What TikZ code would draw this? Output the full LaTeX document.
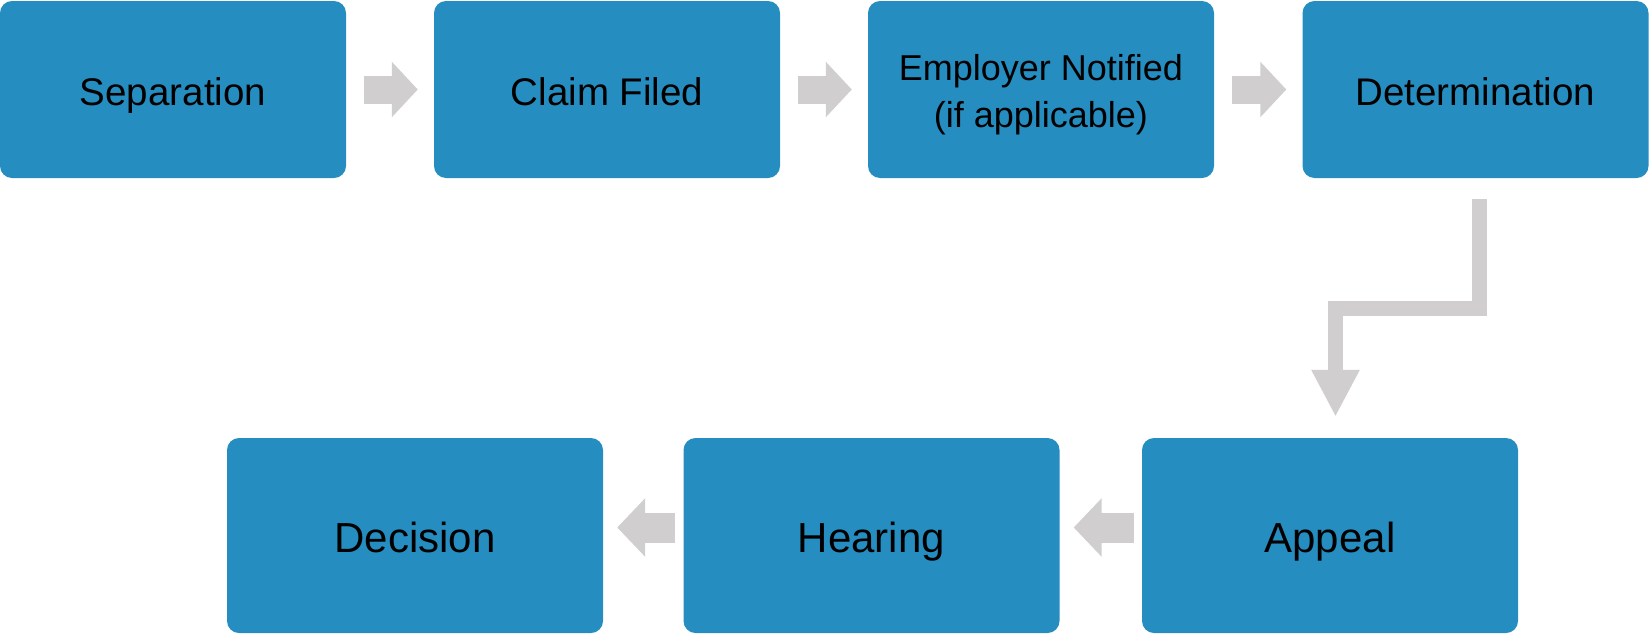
\documentclass[tikz,border=0pt]{standalone}
\usepackage{fontspec}
\setmainfont{Liberation Sans}
\usetikzlibrary{arrows.meta,calc}
\definecolor{boxblue}{RGB}{37,141,192}
\definecolor{arrgrey}{RGB}{208,206,206}
\tikzset{
  topbox/.style={rectangle, rounded corners=12pt, fill=boxblue, draw=none,
    minimum width=346pt, minimum height=177pt, inner sep=0pt, align=center,
    text=black, font=\fontsize{38.5}{50}\selectfont,
    text height=31.6pt, text depth=0pt},
  botbox/.style={topbox, minimum width=376pt, minimum height=195pt,
    font=\fontsize{42}{52}\selectfont, text height=34pt, text depth=0pt},
  toparrow/.style={draw=arrgrey, line width=28pt,
    -{Triangle[length=26pt,width=54pt]}, shorten <=18pt, shorten >=16pt},
  botarrow/.style={draw=arrgrey, line width=30pt,
    -{Triangle[length=28pt,width=57pt]}, shorten <=8pt, shorten >=14pt},
  elbowarrow/.style={draw=arrgrey, line width=15pt, line join=miter,
    -{Triangle[length=47pt,width=45pt]}, shorten <=21pt, shorten >=21pt}
}
\begin{document}
\begin{tikzpicture}[x=1pt,y=-1pt]
\path[use as bounding box] (0,0) rectangle (1649,635);
\node[topbox] (sep) at (173,89.5) {Separation};
\node[topbox] (claim) at (607,89.5) {Claim Filed};
\node[topbox, font=\fontsize{36}{47}\selectfont, text height=75.8pt, text depth=0pt] (emp) at (1041,89.5) {Employer Notified\\(if applicable)};
\node[topbox] (det) at (1475.5,89.5) {Determination};
\node[botbox] (dec) at (415,535.5) {Decision};
\node[botbox] (hear) at (871.5,535.5) {Hearing};
\node[botbox] (app) at (1330,535.5) {Appeal};
\draw[toparrow] (sep.east) -- (claim.west);
\draw[toparrow] (claim.east) -- (emp.west);
\draw[toparrow] (emp.east) -- (det.west);
\draw[elbowarrow] ([xshift=4pt]det.south) -- ([xshift=4pt]det.south |- 0,308.5) -| ([xshift=5.5pt]app.north);
\draw[botarrow] ([yshift=8pt]app.west) -- ([yshift=8pt]hear.east);
\draw[botarrow] ([yshift=8pt]hear.west) -- ([yshift=8pt]dec.east);
\end{tikzpicture}
\end{document}
